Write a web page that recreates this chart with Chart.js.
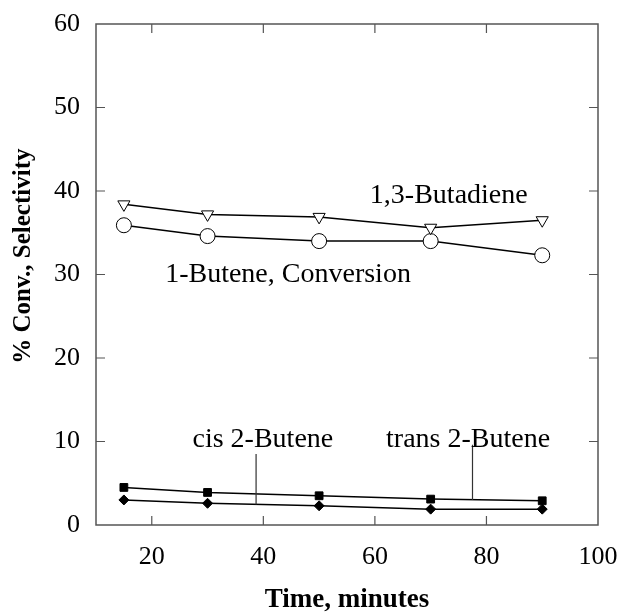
<!DOCTYPE html>
<html>
<head>
<meta charset="utf-8">
<script src="https://cdn.jsdelivr.net/npm/chart.js@4"></script>
<style>
    body { margin: 0; background: #fff; }
    .container { width: 622px; height: 614px; }
</style>
</head>
<body>
<div class="container"><canvas id="chart"></canvas></div>
<script>
// Data
const times = [15, 30, 50, 70, 90];
const butadiene = [38.4, 37.2, 36.9, 35.6, 36.5];
const conversion = [35.9, 34.6, 34.0, 34.0, 32.3];
const trans2Butene = [4.5, 3.9, 3.5, 3.1, 2.9];
const cis2Butene = [3.0, 2.6, 2.3, 1.9, 1.9];
const xTickValues = [20, 40, 60, 80, 100];
const yTickValues = [0, 10, 20, 30, 40, 50, 60];

const SERIF = "'Liberation Serif', 'Times New Roman', serif";

// Text labels and leader lines, placed in data units
const notes = [
    { text: "1,3-Butadiene", x: 59.1, y: 38.6 },
    { text: "1-Butene, Conversion", x: 22.4, y: 29.1 },
    { text: "cis 2-Butene", x: 27.3, y: 9.4 },
    { text: "trans 2-Butene", x: 62, y: 9.4 }
];
const leaders = [
    { x: 38.7, from: 8.5, to: 2.45 },
    { x: 77.5, from: 9.6, to: 3.0 }
];

function points(values) {
    return values.map((v, i) => ({ x: times[i], y: v }));
}

function series(values, style, radius, filled, rotation) {
    return {
        data: points(values),
        borderColor: "#000",
        borderWidth: 1.5,
        pointStyle: style,
        pointRadius: radius,
        pointRotation: rotation || 0,
        pointBorderWidth: 1,
        pointBorderColor: "#000",
        pointBackgroundColor: filled ? "#000" : "#fff",
        tension: 0
    };
}

// Frame, inward ticks, y title and notes
const framePlugin = {
    id: "frame",
    beforeDatasetsDraw(chart) {
        const { ctx, chartArea: a, scales: { x, y } } = chart;
        ctx.save();
        ctx.strokeStyle = "#555";
        ctx.lineWidth = 1.5;
        ctx.strokeRect(a.left, a.top, a.right - a.left, a.bottom - a.top);
        ctx.lineWidth = 1.2;
        ctx.beginPath();
        xTickValues.filter(v => v < 100).forEach(v => {
            const px = x.getPixelForValue(v);
            ctx.moveTo(px, a.bottom); ctx.lineTo(px, a.bottom - 9);
            ctx.moveTo(px, a.top); ctx.lineTo(px, a.top + 9);
        });
        yTickValues.filter(v => v > 0 && v < 60).forEach(v => {
            const py = y.getPixelForValue(v);
            ctx.moveTo(a.left, py); ctx.lineTo(a.left + 9, py);
            ctx.moveTo(a.right, py); ctx.lineTo(a.right - 9, py);
        });
        ctx.stroke();

        // y axis title, sits a little above the centre as in the original
        ctx.translate(24, y.getPixelForValue(32.2));
        ctx.rotate(-Math.PI / 2);
        ctx.fillStyle = "#000";
        ctx.font = "bold 25px " + SERIF;
        ctx.textAlign = "center";
        ctx.textBaseline = "middle";
        ctx.fillText("% Conv., Selectivity", 0, 0);
        ctx.restore();
    },
    afterDatasetsDraw(chart) {
        const { ctx, scales: { x, y } } = chart;
        ctx.save();
        ctx.strokeStyle = "#333";
        ctx.lineWidth = 1.2;
        ctx.beginPath();
        leaders.forEach(l => {
            const px = x.getPixelForValue(l.x);
            ctx.moveTo(px, y.getPixelForValue(l.from));
            ctx.lineTo(px, y.getPixelForValue(l.to));
        });
        ctx.stroke();
        ctx.fillStyle = "#000";
        ctx.font = "28px " + SERIF;
        ctx.textAlign = "left";
        ctx.textBaseline = "alphabetic";
        notes.forEach(n => {
            ctx.fillText(n.text, x.getPixelForValue(n.x), y.getPixelForValue(n.y));
        });
        ctx.restore();
    }
};

new Chart(document.getElementById("chart"), {
    type: "line",
    data: {
        datasets: [
            series(butadiene, "triangle", 7, false, 180),
            series(conversion, "circle", 7.5, false),
            series(trans2Butene, "rect", 5.5, true),
            series(cis2Butene, "rectRot", 5, true)
        ]
    },
    options: {
        responsive: true,
        maintainAspectRatio: false,
        animation: false,
        layout: { padding: { top: 24, right: 24, left: 0, bottom: 0 } },
        plugins: { legend: { display: false }, tooltip: { enabled: false } },
        scales: {
            x: {
                type: "linear",
                min: 10,
                max: 100,
                afterBuildTicks: s => { s.ticks = xTickValues.map(v => ({ value: v })); },
                afterFit: s => {
                    s.height = 89;
                    s.paddingLeft = 0;
                    s.paddingRight = 0;
                },
                grid: { display: false, drawTicks: false },
                border: { display: false },
                ticks: {
                    padding: 17,
                    color: "#000",
                    maxRotation: 0,
                    autoSkip: false,
                    font: { family: SERIF, size: 26 }
                },
                title: {
                    display: true,
                    text: "Time, minutes",
                    color: "#000",
                    padding: { top: 0, bottom: 0 },
                    font: { family: SERIF, size: 27, weight: "bold", lineHeight: 1 }
                }
            },
            y: {
                min: 0,
                max: 60,
                afterBuildTicks: s => { s.ticks = yTickValues.map(v => ({ value: v })); },
                afterFit: s => {
                    s.width = 96;
                    s.paddingTop = 0;
                    s.paddingBottom = 0;
                },
                grid: { display: false, drawTicks: false },
                border: { display: false },
                ticks: {
                    padding: 16,
                    color: "#000",
                    font: { family: SERIF, size: 26 }
                }
            }
        }
    },
    plugins: [framePlugin]
});
</script>
</body>
</html>
